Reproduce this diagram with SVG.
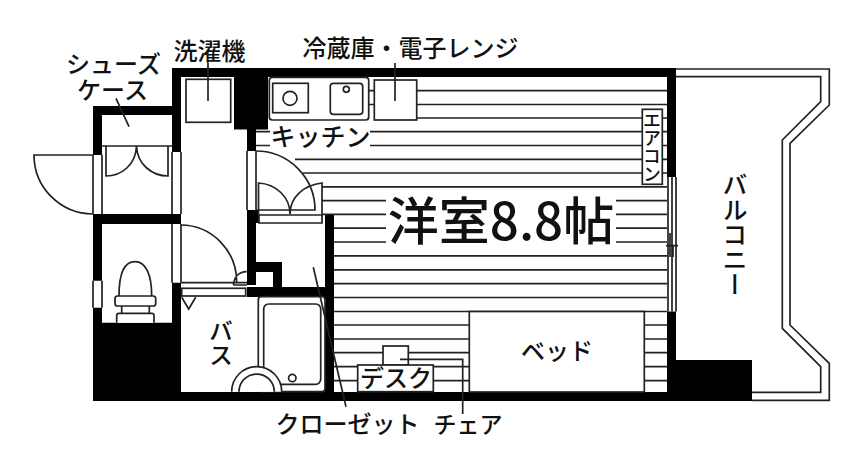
<svg xmlns="http://www.w3.org/2000/svg" width="860" height="469" viewBox="0 0 860 469">
<style>
.l{fill:none;stroke:#222;stroke-width:1.7}
.f{fill:#fff;stroke:#222;stroke-width:1.7}
.w{fill:#000;stroke:none}
text{font-family:"Noto Sans CJK JP","Noto Sans",sans-serif;fill:#111;font-size:24px;text-anchor:middle;font-weight:500}
.v{writing-mode:vertical-rl;text-orientation:upright}
</style>
<rect width="860" height="469" fill="#fff"/>
<path class="l" d="M369 90.7H374M417 90.7H667M369 104.5H374M417 104.5H667M417 118H667M256 131.7H270M370 131.7H667M256 145.5H270M370 145.5H667M295 159.3H667M303 173H667M322 186.8H667M322 200.6H386M616 200.6H667M322 214.4H386M616 214.4H667M334 228.2H386M616 228.2H667M334 242H386M616 242H667M334 255.8H667M334 269.8H667M334 283.7H667M334 297.5H667M334 311.5H667M334 325H469M644 325H667M334 339H469M644 339H667M334 352.7H383M408 352.7H469M644 352.7H667M334 366.7H358M433 366.7H469M644 366.7H667M334 380.7H358M433 380.7H469M644 380.7H667"/>
<!-- balcony -->
<path class="l" d="M676 69H829.3V105L790 143.3V325L829.3 363.3V400.4H752M676 76.7H820.7V101.7L782.3 140V328.3L820.7 366.7V392.3H752"/>
<!-- walls -->
<path class="w" d="M172 68H676V77H268V129.500H256V151H247V129.500H234V77H181V152H172V115H102V155H93V106H172ZM667 77H676V177H667ZM667 311.500H676V360H752V401H93V214H181V224H102V280.700H93V307.700H102V322.700H172V282.700H181V392H325V215H334V392H667ZM247 210H259V223H256V262H282V287H325V297H247V287H273V272H256V285H247Z"/>
<path class="f" d="M259 215H322V223H259Z"/>
<!-- openings -->
<path class="l" d="M93 155V214M102 155V214M172 152V214M181 152V214M172 224V282.700M181 224V282.700M93 280.700V307.700M102 280.700V307.700M247 151V210M256 151V210M668 177V311.500M672 177V311.500M676 177V311.500M666 245.700H678M670 233V257M673 246V257"/>
<!-- doors -->
<path class="l" d="M93 155H34A59 59 0 0 0 93 214M102 146H172M106 146V176C122 176 136 164 136.500 146C137 164 152 176 168 176V146M256 151A59 59 0 0 1 315 210H256M258.500 215V183C276 184 290 197 290 214C290 197 304 185 322 183V215M181 225A56 57 0 0 1 236.700 282.700M181 282.700H247M233.500 285C234 277 239 272 246.700 271.700M233.500 285H247"/>
<rect class="f" x="181.700" y="288.300" width="64" height="7.700"/>
<path class="l" d="M181.700 297.300L188.700 309L195.700 297.300"/>
<!-- toilet -->
<path class="l" d="M119 296C119 275 124 261.700 135 261.700C146 261.700 151.700 275 151.700 296"/>
<rect class="f" x="115" y="296" width="40.700" height="10" rx="2.500"/>
<path class="l" d="M121.700 306V313M149.300 306V313"/>
<path class="f" d="M116.700 322.700V315.500Q116.700 313.300 119 313.300H151.700Q154 313.300 154 315.500V322.700"/>
<!-- bath -->
<rect class="f" x="258.300" y="296.700" width="66.700" height="95" rx="3"/>
<rect class="f" x="263.700" y="304" width="57" height="80.300" rx="5"/>
<circle class="f" cx="292.300" cy="378" r="3.700"/>
<path class="f" d="M231.700 391.700A25 25 0 0 1 281.700 391.700"/>
<path class="f" d="M239 391.700A17.500 17.500 0 0 1 274.300 391.700"/>
<!-- kitchen -->
<rect class="f" x="269.300" y="77.300" width="99.400" height="42.700" rx="3"/>
<rect class="f" x="272.700" y="83.300" width="35.600" height="29.400"/>
<circle class="f" cx="290" cy="98.300" r="7"/>
<rect class="f" x="330.300" y="83.300" width="32.400" height="31" rx="3"/>
<circle class="f" cx="346.300" cy="89.300" r="3"/>
<rect class="f" x="374.300" y="80" width="42.400" height="40"/>
<rect class="f" x="186" y="79.300" width="44.700" height="43"/>
<!-- furniture -->
<rect class="f" x="469.300" y="311.500" width="175" height="80.500"/>
<rect class="f" x="383" y="346" width="25.300" height="19"/>
<rect class="f" x="357.700" y="365" width="75.600" height="26.700"/>
<rect class="f" x="642.300" y="109.300" width="20" height="75"/>
<!-- leaders -->
<path class="l" d="M208 63V101M395 63V101M116 98.300L129 126.700M313.300 267.300L346 406.700M400 359.300H462.700V414"/>
<!-- labels -->
<text x="209.500" y="60">洗濯機</text>
<text x="410.500" y="57">冷蔵庫・電子レンジ</text>
<text x="113.500" y="73">シューズ</text>
<text x="112.500" y="99">ケース</text>
<text x="320.500" y="146" style="font-size:25px">キッチン</text>
<text x="501" y="240" style="font-size:51px">洋室8.8帖</text>
<text x="557" y="360" style="font-size:24px">ベッド</text>
<text x="396" y="387">デスク</text>
<text x="347.500" y="433">クローゼット</text>
<text x="468" y="433" style="font-size:23px">チェア</text>
<text class="v" x="221" y="343">バス</text>
<text class="v" x="735" y="172" style="font-size:25px;text-anchor:start">バルコニー</text>
<text class="v" x="652" y="111" style="font-size:18px;text-anchor:start">エアコン</text>
</svg>
